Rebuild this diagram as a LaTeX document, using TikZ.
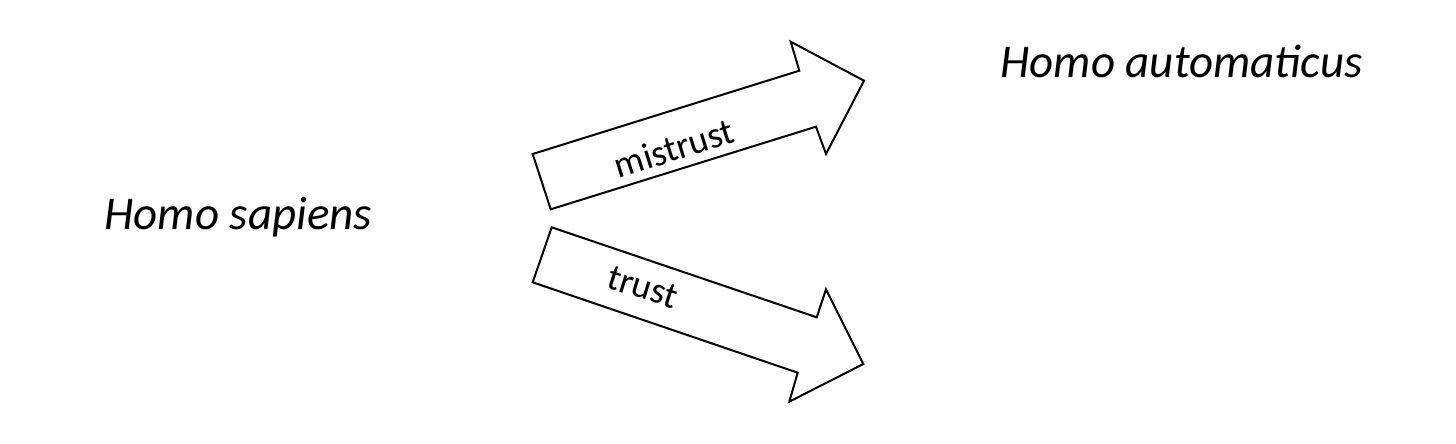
\documentclass[tikz,border=0pt]{standalone}
\usepackage{fontspec}
\setmainfont{Carlito}
\begin{document}
\begin{tikzpicture}[x=1pt,y=-1pt,
  bigarrow/.style={draw=black,fill=white,line width=2pt,line join=miter},
  species/.style={font=\fontsize{47}{56}\selectfont\itshape,inner sep=0pt,anchor=base},
  arrlabel/.style={font=\fontsize{37}{44}\selectfont,inner sep=0pt}]
\useasboundingbox[fill=white] (0,0) rectangle (1456,444);
% mistrust arrow
\draw[bigarrow] (532.7,154) -- (799.3,70.7) -- (790.7,41.7) -- (864,80.7)
  -- (826,154) -- (816,126.7) -- (550.7,209.3) -- cycle;
% trust arrow
\draw[bigarrow] (551.7,227.3) -- (816.7,317.3) -- (826,289.3) -- (863.3,364)
  -- (789.3,401.7) -- (797.7,372.7) -- (532.7,282.3) -- cycle;
\node[arrlabel,rotate=17.4] (mistrust) at (674,148) {mistrust};
\node[arrlabel,rotate=-17.5] (trust) at (643,287) {trust};
\node[species] (sapiens) at (238.3,229.3) {Homo sapiens};
\node[species] (automaticus) at (1181.7,77.3) {Homo automaticus};
\end{tikzpicture}
\end{document}
